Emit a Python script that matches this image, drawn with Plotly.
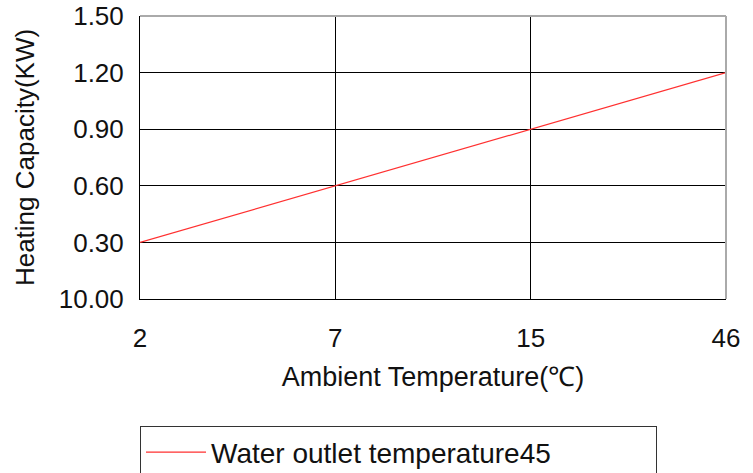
import plotly.graph_objects as go

categories = ["2", "7", "15", "46"]
capacity = [0.30, 0.60, 0.90, 1.20]
y_ticks = [0.0, 0.3, 0.6, 0.9, 1.2, 1.5]
y_tick_labels = ["10.00", "0.30", "0.60", "0.90", "1.20", "1.50"]
series_name = "Water outlet temperature45<br>℃"

FONT = "Liberation Sans, Arial, sans-serif"

fig = go.Figure()
fig.add_trace(go.Scatter(x=categories, y=capacity, mode="lines",
                         line=dict(color="#ff3030", width=1.2),
                         name=series_name, showlegend=True))

fig.update_layout(
    width=753, height=473,
    margin=dict(l=140, r=27, t=16, b=174, autoexpand=False),
    paper_bgcolor="white", plot_bgcolor="white",
    font=dict(family=FONT, color="#111", size=24),
    showlegend=True,
    legend=dict(x=0.0, y=-0.45, xanchor="left", yanchor="top",
                orientation="h",
                bordercolor="#333", borderwidth=1, valign="top",
                font=dict(size=28, family=FONT),
                itemwidth=60, tracegroupgap=0,
                entrywidth=440, entrywidthmode="pixels"),
    xaxis=dict(type="category", range=[0, 3], showgrid=True, gridcolor="black",
               gridwidth=1, showline=True, linecolor="black", linewidth=1,
               ticks="", tickfont=dict(size=26), ticklabelstandoff=16,
               title=dict(text="Ambient Temperature(℃)", font=dict(size=27), standoff=14),
               zeroline=False),
    yaxis=dict(range=[0, 1.5], tickvals=y_ticks, ticktext=y_tick_labels,
               showgrid=True, gridcolor="black", gridwidth=1,
               showline=True, linecolor="black", linewidth=1, ticks="",
               tickfont=dict(size=26), ticklabelstandoff=10,
               title=dict(text="Heating Capacity(KW)", font=dict(size=26), standoff=16),
               zeroline=False),
)

fig.add_shape(type="line", xref="paper", yref="paper", x0=0, x1=1, y0=1, y1=1,
              line=dict(color="#aaaaaa", width=2))
fig.add_shape(type="line", xref="paper", yref="paper", x0=1, x1=1, y0=0, y1=1,
              line=dict(color="#aaaaaa", width=2))

fig.write_html("out.html", config={"displayModeBar": False},
               post_script="document.body.style.margin='0';document.body.style.overflow='hidden';")
